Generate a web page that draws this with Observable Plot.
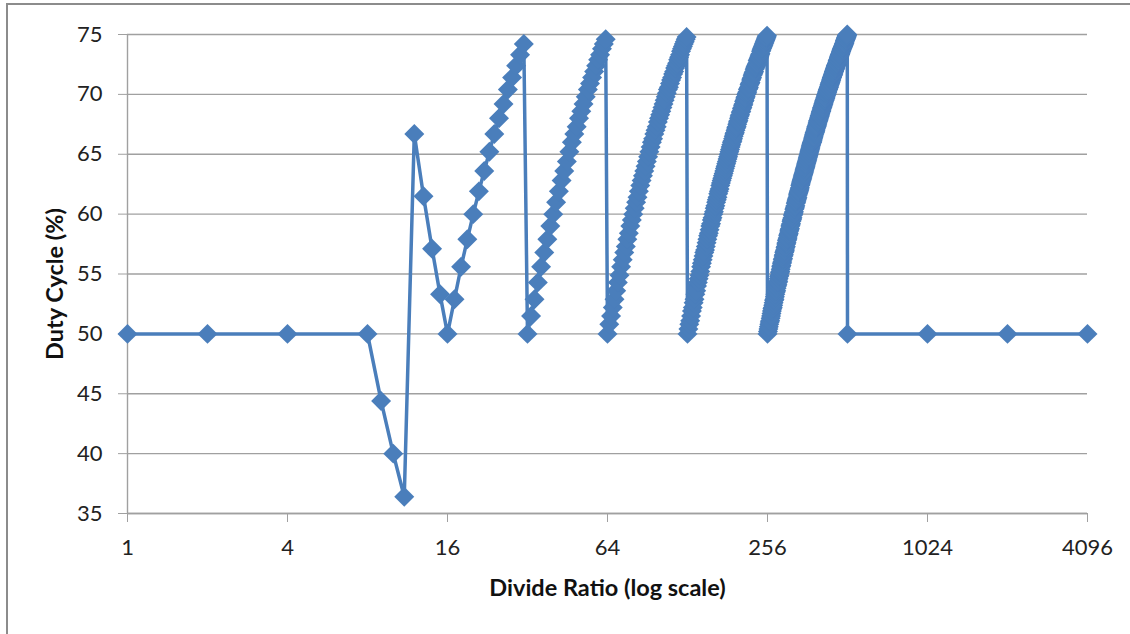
<!DOCTYPE html>
<html><head><meta charset="utf-8">
<script src="https://cdn.jsdelivr.net/npm/d3@7"></script>
<script src="https://cdn.jsdelivr.net/npm/@observablehq/plot@0.6"></script>
<style>
html,body{margin:0;padding:0;background:#fff;}
#wrap{position:relative;width:1130px;height:634px;overflow:hidden;}
#wrap svg{position:absolute;left:0;top:0;}
#frame{position:absolute;left:6px;top:3px;right:-10px;bottom:-10px;border-left:2px solid #8c8c8c;border-top:2px solid #8c8c8c;pointer-events:none;}
</style></head><body><div id="wrap"><div id="frame"></div></div>
<script>
const divideRatio = [
1,2,4,8,
9,10,11,12,13,14,15,16,
17,18,19,20,21,22,23,24,25,26,27,28,29,30,31,32,
33,34,35,36,37,38,39,40,41,42,43,44,45,46,47,48,
49,50,51,52,53,54,55,56,57,58,59,60,61,62,63,64,
65,66,67,68,69,70,71,72,73,74,75,76,77,78,79,80,
81,82,83,84,85,86,87,88,89,90,91,92,93,94,95,96,
97,98,99,100,101,102,103,104,105,106,107,108,109,110,111,112,
113,114,115,116,117,118,119,120,121,122,123,124,125,126,127,128,
129,130,131,132,133,134,135,136,137,138,139,140,141,142,143,144,
145,146,147,148,149,150,151,152,153,154,155,156,157,158,159,160,
161,162,163,164,165,166,167,168,169,170,171,172,173,174,175,176,
177,178,179,180,181,182,183,184,185,186,187,188,189,190,191,192,
193,194,195,196,197,198,199,200,201,202,203,204,205,206,207,208,
209,210,211,212,213,214,215,216,217,218,219,220,221,222,223,224,
225,226,227,228,229,230,231,232,233,234,235,236,237,238,239,240,
241,242,243,244,245,246,247,248,249,250,251,252,253,254,255,256,
257,258,259,260,261,262,263,264,265,266,267,268,269,270,271,272,
273,274,275,276,277,278,279,280,281,282,283,284,285,286,287,288,
289,290,291,292,293,294,295,296,297,298,299,300,301,302,303,304,
305,306,307,308,309,310,311,312,313,314,315,316,317,318,319,320,
321,322,323,324,325,326,327,328,329,330,331,332,333,334,335,336,
337,338,339,340,341,342,343,344,345,346,347,348,349,350,351,352,
353,354,355,356,357,358,359,360,361,362,363,364,365,366,367,368,
369,370,371,372,373,374,375,376,377,378,379,380,381,382,383,384,
385,386,387,388,389,390,391,392,393,394,395,396,397,398,399,400,
401,402,403,404,405,406,407,408,409,410,411,412,413,414,415,416,
417,418,419,420,421,422,423,424,425,426,427,428,429,430,431,432,
433,434,435,436,437,438,439,440,441,442,443,444,445,446,447,448,
449,450,451,452,453,454,455,456,457,458,459,460,461,462,463,464,
465,466,467,468,469,470,471,472,473,474,475,476,477,478,479,480,
481,482,483,484,485,486,487,488,489,490,491,492,493,494,495,496,
497,498,499,500,501,502,503,504,505,506,507,508,509,510,511,512,
1024,2048,4096
];
const dutyCycle = [
50,50,50,50,
44.4,40.0,36.4,66.7,61.5,57.1,53.3,50,
52.9,55.6,57.9,60.0,61.9,63.6,65.2,66.7,68.0,69.2,70.4,71.4,72.4,73.3,74.2,50,
51.5,52.9,54.3,55.6,56.8,57.9,59.0,60.0,61.0,61.9,62.8,63.6,64.4,65.2,66.0,66.7,
67.3,68.0,68.6,69.2,69.8,70.4,70.9,71.4,71.9,72.4,72.9,73.3,73.8,74.2,74.6,50,
50.8,51.5,52.2,52.9,53.6,54.3,54.9,55.6,56.2,56.8,57.3,57.9,58.4,59.0,59.5,60.0,
60.5,61.0,61.4,61.9,62.4,62.8,63.2,63.6,64.0,64.4,64.8,65.2,65.6,66.0,66.3,66.7,
67.0,67.3,67.7,68.0,68.3,68.6,68.9,69.2,69.5,69.8,70.1,70.4,70.6,70.9,71.2,71.4,
71.7,71.9,72.2,72.4,72.6,72.9,73.1,73.3,73.6,73.8,74.0,74.2,74.4,74.6,74.8,50,
50.4,50.8,51.1,51.5,51.9,52.2,52.6,52.9,53.3,53.6,54.0,54.3,54.6,54.9,55.2,55.6,
55.9,56.2,56.5,56.8,57.0,57.3,57.6,57.9,58.2,58.4,58.7,59.0,59.2,59.5,59.7,60.0,
60.2,60.5,60.7,61.0,61.2,61.4,61.7,61.9,62.1,62.4,62.6,62.8,63.0,63.2,63.4,63.6,
63.8,64.0,64.2,64.4,64.6,64.8,65.0,65.2,65.4,65.6,65.8,66.0,66.1,66.3,66.5,66.7,
66.8,67.0,67.2,67.3,67.5,67.7,67.8,68.0,68.2,68.3,68.5,68.6,68.8,68.9,69.1,69.2,
69.4,69.5,69.7,69.8,70.0,70.1,70.2,70.4,70.5,70.6,70.8,70.9,71.0,71.2,71.3,71.4,
71.6,71.7,71.8,71.9,72.1,72.2,72.3,72.4,72.5,72.6,72.8,72.9,73.0,73.1,73.2,73.3,
73.4,73.6,73.7,73.8,73.9,74.0,74.1,74.2,74.3,74.4,74.5,74.6,74.7,74.8,74.9,50,
50.2,50.4,50.6,50.8,51.0,51.1,51.3,51.5,51.7,51.9,52.1,52.2,52.4,52.6,52.8,52.9,
53.1,53.3,53.5,53.6,53.8,54.0,54.1,54.3,54.4,54.6,54.8,54.9,55.1,55.2,55.4,55.6,
55.7,55.9,56.0,56.2,56.3,56.5,56.6,56.8,56.9,57.0,57.2,57.3,57.5,57.6,57.8,57.9,
58.0,58.2,58.3,58.4,58.6,58.7,58.8,59.0,59.1,59.2,59.4,59.5,59.6,59.7,59.9,60.0,
60.1,60.2,60.4,60.5,60.6,60.7,60.9,61.0,61.1,61.2,61.3,61.4,61.6,61.7,61.8,61.9,
62.0,62.1,62.2,62.4,62.5,62.6,62.7,62.8,62.9,63.0,63.1,63.2,63.3,63.4,63.5,63.6,
63.7,63.8,63.9,64.0,64.1,64.2,64.3,64.4,64.5,64.6,64.7,64.8,64.9,65.0,65.1,65.2,
65.3,65.4,65.5,65.6,65.7,65.8,65.9,66.0,66.0,66.1,66.2,66.3,66.4,66.5,66.6,66.7,
66.8,66.8,66.9,67.0,67.1,67.2,67.3,67.3,67.4,67.5,67.6,67.7,67.8,67.8,67.9,68.0,
68.1,68.2,68.2,68.3,68.4,68.5,68.6,68.6,68.7,68.8,68.9,68.9,69.0,69.1,69.2,69.2,
69.3,69.4,69.5,69.5,69.6,69.7,69.7,69.8,69.9,70.0,70.0,70.1,70.2,70.2,70.3,70.4,
70.4,70.5,70.6,70.6,70.7,70.8,70.8,70.9,71.0,71.0,71.1,71.2,71.2,71.3,71.4,71.4,
71.5,71.6,71.6,71.7,71.7,71.8,71.9,71.9,72.0,72.1,72.1,72.2,72.2,72.3,72.4,72.4,
72.5,72.5,72.6,72.6,72.7,72.8,72.8,72.9,72.9,73.0,73.1,73.1,73.2,73.2,73.3,73.3,
73.4,73.4,73.5,73.6,73.6,73.7,73.7,73.8,73.8,73.9,73.9,74.0,74.0,74.1,74.1,74.2,
74.2,74.3,74.3,74.4,74.5,74.5,74.6,74.6,74.7,74.7,74.8,74.8,74.9,74.9,75.0,50,
50,50,50
];
const xTicks = [1,4,16,64,256,1024,4096];
const yTicks = [35,40,45,50,55,60,65,70,75];
const xTitle = "Divide Ratio (log scale)";
const yTitle = "Duty Cycle (%)";

const data = divideRatio.map((r, i) => ({ratio: r, duty: dutyCycle[i]}));
const blue = "#4a7ebb";
const gray = "#a0a0a0";

const chart = Plot.plot({
  width: 1130, height: 634,
  marginLeft: 127, marginRight: 43, marginTop: 34, marginBottom: 121,
  style: {fontFamily: "Lato, sans-serif", fontSize: "22px", color: "#222", background: "transparent"},
  x: {type: "log", base: 2, domain: [1, 4096]},
  y: {domain: [35, 75]},
  marks: [
    Plot.gridY(yTicks, {stroke: gray, strokeOpacity: 1, strokeWidth: 1.4}),
    Plot.ruleX([1], {stroke: gray, strokeWidth: 1.4}),
    Plot.ruleY([35], {stroke: gray, strokeWidth: 1.4}),
    Plot.axisY(yTicks, {tickSize: 9, tickPadding: 16, stroke: gray, label: null, fontSize: 22}),
    Plot.axisX(xTicks, {tickSize: 9, tickPadding: 17, stroke: gray, label: null, fontSize: 22, tickFormat: d => String(d)}),
    Plot.line(data, {x: "ratio", y: "duty", stroke: blue, strokeWidth: 3.5}),
    Plot.dot(data, {x: "ratio", y: "duty", symbol: "diamond2", r: 9, fill: blue, stroke: "none"}),
    Plot.text([xTitle], {text: d => d, frameAnchor: "bottom", dy: 75, textAnchor: "middle", lineAnchor: "middle", fontWeight: "bold", fontSize: 23.5, fill: "#111"}),
    Plot.text([yTitle], {text: d => d, frameAnchor: "left", dx: -72, dy: 10, rotate: -90, textAnchor: "middle", lineAnchor: "middle", fontWeight: "bold", fontSize: 23.5, fill: "#111"})
  ]
});
document.getElementById("wrap").insertBefore(chart, document.getElementById("frame"));
</script>
</body></html>
